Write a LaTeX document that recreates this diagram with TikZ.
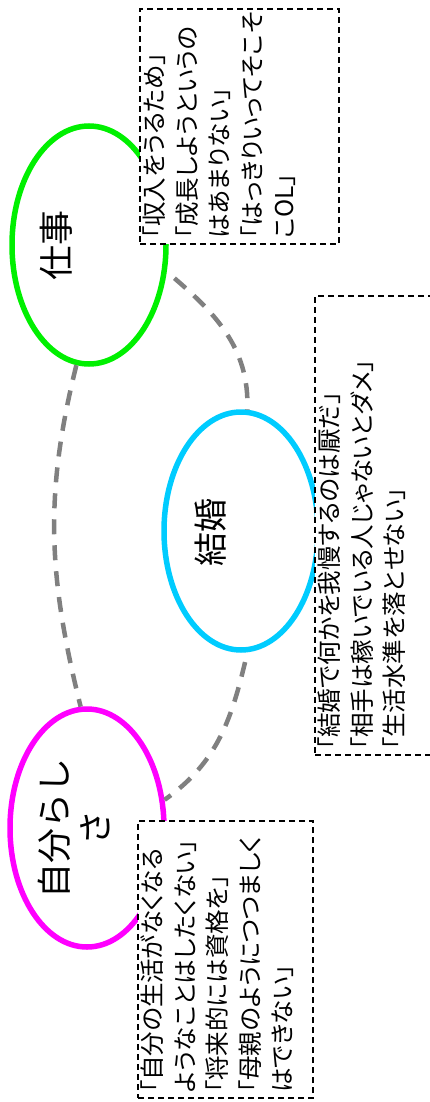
\documentclass[tikz,border=0pt]{standalone}
\usepackage{fontspec}
\setmainfont{Noto Sans CJK JP}
\newfontfamily\jpp[RawFeature=+palt]{Noto Sans CJK JP}
\usetikzlibrary{shapes.geometric}
\definecolor{ggreen}{RGB}{0,240,0}
\definecolor{gmag}{RGB}{255,0,255}
\definecolor{gcyan}{RGB}{0,204,255}
\definecolor{ggray}{RGB}{128,128,128}
\begin{document}
\begin{tikzpicture}[x=1pt,y=1pt,
  topic/.style={ellipse, line width=5.5pt, minimum width=154pt, minimum height=238pt, inner sep=0pt},
  link/.style={ggray, line width=4.5pt, dash pattern=on 15pt off 11pt},
  notebox/.style={draw, fill=white, dash pattern=on 6pt off 4pt, line width=1.5pt, inner sep=0pt, outer sep=0pt},
  note/.style={rotate=90, anchor=north west, align=left, inner xsep=5pt, inner ysep=3pt, font=\jpp\fontsize{24.5}{32.5}\selectfont},
  lbl/.style={rotate=90, align=center, inner sep=0pt}]
\path[use as bounding box, clip] (0,0) rectangle (430,-1102);
\fill[white] (0,0) rectangle (430,-1102);
% topics
\node[topic, draw=ggreen] (g) at (89,-245) {};
\node[topic, draw=gcyan] (c) at (241,-531) {};
\node[topic, draw=gmag] (m) at (87,-828) {};
\node[lbl, font=\fontsize{35}{41}\selectfont] (gl) at (56,-245) {仕事};
\node[lbl, font=\fontsize{34}{40}\selectfont] (cl) at (211,-532) {結婚};
\node[lbl, font=\fontsize{35}{41}\selectfont] (ml) at (73.5,-828) {自分らし\\さ};
% links
\draw[link] (g.264) to[out=256,in=104] (m.93);
\draw[link, dash phase=16pt] (g.-19) to[out=-40,in=88] (c.87);
\draw[link, dash phase=16pt] (c.-87) to[out=-103,in=35] (m.20);
% note boxes
\node[notebox, minimum width=199pt, minimum height=235pt] (b1) at (239.5,-126.5) {};
\node[notebox, minimum width=125pt, minimum height=459pt] (b2) at (377.5,-525.5) {};
\node[notebox, minimum width=175pt, minimum height=277pt] (b3) at (225.5,-959.5) {};
\node[note] (t1) at (b1.south west) {「収入をうるため」\\「成長しようというの\\はあまりない」\\「はっきりいってそこそ\\こOL」};
\node[note] (t2) at (b2.south west) {「結婚で何かを我慢するのは厭だ」\\「相手は稼いでいる人じゃないとダメ」\\「生活水準を落とせない」};
\node[note] (t3) at (b3.south west) {「自分の生活がなくなる\\ようなことはしたくない」\\「将来的には資格を」\\「母親のようにつつましく\\はできない」};
\end{tikzpicture}
\end{document}
